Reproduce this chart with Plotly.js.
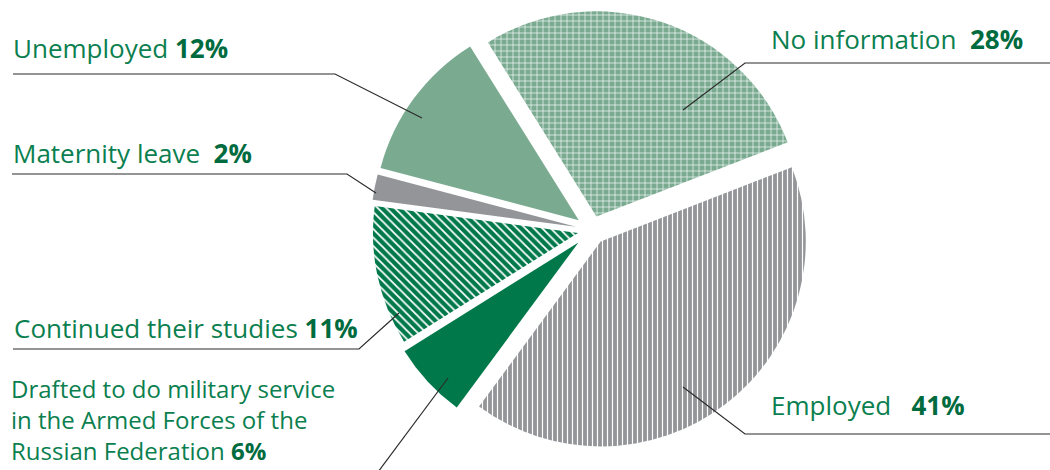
<!DOCTYPE html>
<html>
<head>
<meta charset="utf-8">
<script src="https://cdn.plot.ly/plotly-3.0.1.min.js"></script>
<style>html,body{margin:0;padding:0;background:#fff;}#chart{width:1050px;height:470px;}</style>
</head>
<body>
<div id="chart"></div>
<script>
// ---- data ----
const categories = ['No information', 'Employed', 'Drafted to do military service in the Armed Forces of the Russian Federation', 'Continued their studies', 'Maternity leave', 'Unemployed'];
const labelLines = ['No information', 'Employed', 'Drafted to do military service<br>in the Armed Forces of the<br>Russian Federation', 'Continued their studies', 'Maternity leave', 'Unemployed'];
const shares = [28, 41, 6, 11, 2, 12];
const percentLabels = ['28%', '41%', '6%', '11%', '2%', '12%'];

// ---- styles ----
const W = 1050, H = 470;
const lightGreen = '#7aab91', darkGreen = '#00784a', grey = '#939598';
const bgColors = [lightGreen, grey, darkGreen, darkGreen, grey, lightGreen];
const patShapes = ['+', '|', '', '\\', '', ''];
const patSizes = [6, 5, 6, 6, 6, 6];
const patSolid = [0.2, 0.24, 0.3, 0.3, 0.3, 0.3];
const pulls = [0.07, 0.07, 0.09, 0.07, 0.08, 0.08];

// pie placement (pixels)
const cx = 592, cy = 230, half = 223.5;
const px = x => x / W, py = y => 1 - y / H;

const trace = {
  type: 'pie',
  labels: categories,
  values: shares,
  sort: false,
  direction: 'clockwise',
  rotation: -32,
  pull: pulls,
  textinfo: 'none',
  hoverinfo: 'label+percent',
  showlegend: false,
  domain: {x: [px(cx - half), px(cx + half)], y: [py(cy + half), py(cy - half)]},
  marker: {
    colors: bgColors,
    line: {width: 0, color: '#fff'},
    pattern: {shape: patShapes, bgcolor: bgColors, fgcolor: '#ffffff', size: patSizes, solidity: patSolid, fillmode: 'replace'}
  }
};

const txtColor = '#0b7f4f', pctColor = '#006b3e';
const fontFam = '"Open Sans", "DejaVu Sans", sans-serif';
// label positions: x px, y px (middle of block), gap before percent, font size
const labelPos = [
  [769, 39, '  ', 26],
  [769, 405, '   ', 26],
  [9, 419, ' ', 24],
  [12, 328, ' ', 26],
  [11, 153, '  ', 26],
  [11, 48, ' ', 26]
];
const annotations = labelPos.map((p, i) => ({
  xref: 'paper', yref: 'paper', x: px(p[0]), y: py(p[1]),
  xanchor: 'left', yanchor: 'middle', align: 'left', showarrow: false,
  text: labelLines[i] + p[2] + '<b><span style="color:' + pctColor + '">' + percentLabels[i] + '</span></b>',
  font: {family: fontFam, size: p[3], color: txtColor}
}));

// leader lines (pixel points -> paper path)
const leaders = [
  [[683, 110], [745, 63], [1050, 63]],
  [[683, 387], [745, 434], [1050, 434]],
  [[448, 378], [378, 472]],
  [[399, 313], [359, 349], [13, 349]],
  [[376, 193], [347, 174], [12, 174]],
  [[422, 118], [335, 74], [13, 74]]
];
const shapes = leaders.map(pts => ({
  type: 'path', xref: 'paper', yref: 'paper',
  path: pts.map((p, k) => (k ? 'L' : 'M') + px(p[0]).toFixed(5) + ',' + py(p[1]).toFixed(5)).join(' '),
  line: {color: '#2b2b2b', width: 1.2}
}));

const layout = {
  width: W, height: H,
  margin: {l: 0, r: 0, t: 0, b: 0},
  paper_bgcolor: '#ffffff',
  annotations: annotations,
  shapes: shapes
};

Plotly.newPlot('chart', [trace], layout, {displayModeBar: false, staticPlot: true});
</script>
</body>
</html>
